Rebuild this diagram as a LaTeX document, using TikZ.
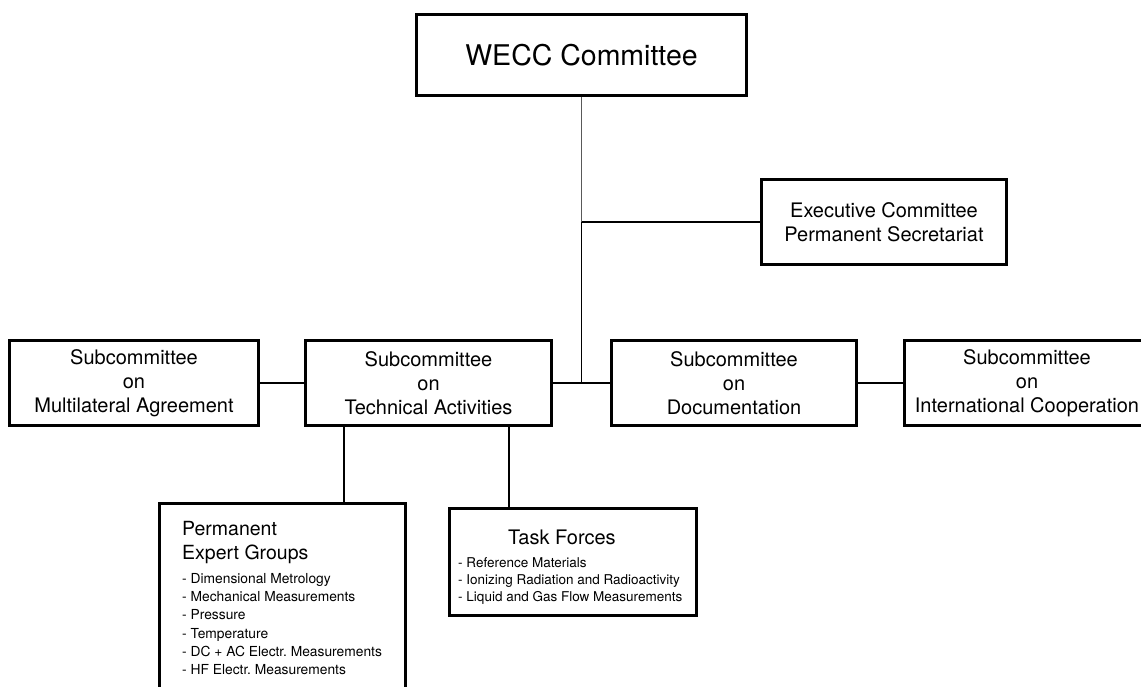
\documentclass[tikz,border=0pt]{standalone}
\usepackage{fontspec}
\setmainfont{TeX Gyre Heros}
\tikzset{
  box/.style={draw, line width=3pt, inner sep=0pt, align=center, font=\fontsize{20}{24}\selectfont},
  conn/.style={line width=1.5pt},
  thinconn/.style={line width=1pt, black!65},
  lbl/.style={inner sep=0pt, anchor=base west},
  headfont/.style={font=\fontsize{19.5}{24}\selectfont},
  itemfont/.style={font=\fontsize{13.8}{17}\selectfont},
}
\begin{document}
\frenchspacing
\begin{tikzpicture}[x=1pt,y=-1pt]
\path[use as bounding box, fill=white] (0,0) rectangle (1141,687);
\clip (0,0) rectangle (1141,687);
% boxes
\node[box, minimum width=330, minimum height=81, font=\fontsize{28.5}{34}\selectfont] (wecc) at (581.5,55) {WECC Committee};
\node[box, minimum width=245, minimum height=85] (exec) at (884,222) {Executive Committee\\Permanent Secretariat};
\node[box, minimum width=249, minimum height=85] (multi) at (134,383) {Subcommittee\\on\\Multilateral Agreement};
\node[box, minimum width=246, minimum height=85] (tech) at (428.5,383) {Subcommittee\\on\\Technical Activities};
\node[box, minimum width=245, minimum height=85] (doc) at (734,383) {Subcommittee\\on\\Documentation};
\node[box, minimum width=246, minimum height=85] (intl) at (1027,383) {Subcommittee\\on\\International Cooperation};
\node[box, minimum width=246, minimum height=210] (perm) at (282.5,608) {};
\node[box, minimum width=247, minimum height=107] (task) at (573,562) {};
% permanent expert groups text
\node[lbl, headfont] (ph1) at (182,535) {Permanent};
\node[lbl, headfont] (ph2) at (182,559.5) {Expert Groups};
\node[lbl, itemfont] (pi1) at (182,583.3) {- Dimensional Metrology};
\node[lbl, itemfont] (pi2) at (182,601.6) {- Mechanical Measurements};
\node[lbl, itemfont] (pi3) at (182,619.9) {- Pressure};
\node[lbl, itemfont] (pi4) at (182,638.2) {- Temperature};
\node[lbl, itemfont] (pi5) at (182,656.5) {- DC + AC Electr.\ Measurements};
\node[lbl, itemfont] (pi6) at (182,674.8) {- HF Electr.\ Measurements};
% task forces text
\node[lbl, font=\fontsize{20}{24}\selectfont] (th) at (508,544.3) {Task Forces};
\node[lbl, font=\fontsize{13.5}{16}\selectfont] (ti1) at (458,567.7) {- Reference Materials};
\node[lbl, font=\fontsize{13.5}{16}\selectfont] (ti2) at (458,584.3) {- Ionizing Radiation and Radioactivity};
\node[lbl, font=\fontsize{13.5}{16}\selectfont] (ti3) at (458,601) {- Liquid and Gas Flow Measurements};
% connectors
\coordinate (j1) at (wecc.south |- exec.west);
\coordinate (j2) at (j1 |- tech.east);
\draw[thinconn] (wecc.south) -- (j1);
\draw[conn] (j1) -- (exec.west);
\draw[conn] (j1) -- (j2);
\draw[conn] (multi.east) -- (tech.west);
\draw[conn] (tech.east) -- (doc.west);
\draw[conn] (doc.east) -- (intl.west);
\coordinate (t1) at (344,427);
\coordinate (t2) at (509,427);
\draw[conn] (t1) -- (t1 |- perm.north);
\draw[conn] (t2) -- (t2 |- task.north);
\end{tikzpicture}
\end{document}
